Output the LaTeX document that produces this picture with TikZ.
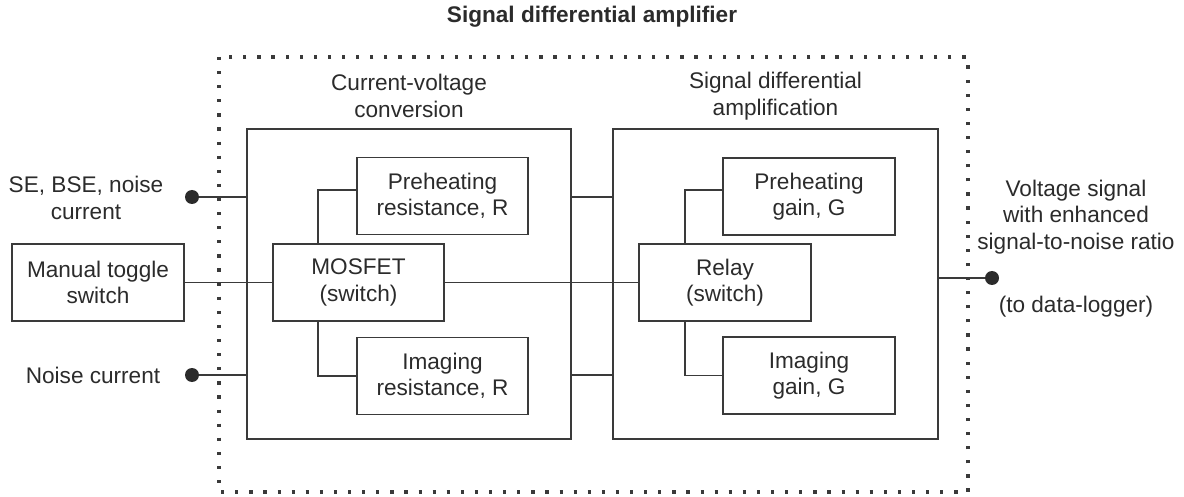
\documentclass[tikz,border=0pt]{standalone}
\usepackage{fontspec}
\setmainfont{Liberation Sans}
\usepackage{tikz}
\usetikzlibrary{positioning, calc}
\definecolor{linie}{HTML}{3A3A3A}
\definecolor{schrift}{HTML}{2B2B2B}

\begin{document}
\begin{tikzpicture}[
    x=1pt, y=-1pt,
    every node/.style={font=\fontsize{22.6}{26.5}\selectfont, text=schrift, align=center},
    box/.style={draw=linie, line width=1.5pt, inner sep=0pt},
    unit/.style={box, minimum width=171pt, minimum height=77pt},
    stage/.style={box, minimum width=324pt, minimum height=310pt},
    wire/.style={draw=linie, line width=1.4pt},
    terminal/.style={circle, fill=schrift, inner sep=0pt, minimum size=14pt},
  ]
  \useasboundingbox (0,0) rectangle (1184,497);

  % title and dotted frame
  \node[font=\fontsize{22.6}{26.5}\selectfont\bfseries] (title) at (592,17) {Signal differential amplifier};
  \draw[linie, line width=3.2pt, dash pattern=on 3.2pt off 10.9pt] (219,57) rectangle (968,492);

  % two stages
  \node[stage] (cv) at (409,284) {};
  \node[stage, minimum width=325pt] (sda) at (775.5,284) {};
  \node (cvTitle) at (409,96) {Current-voltage\\conversion};
  \node (sdaTitle) at (775.5,96) {Signal differential\\amplification};

  % current-voltage conversion
  \node[unit] (mosfet) at (358.5,282.5) {MOSFET\\(switch)};
  \node[unit] (preR) at (442.5,196) {Preheating\\resistance, R};
  \node[unit] (imgR) at (442.5,376) {Imaging\\resistance, R};

  % signal differential amplification
  \node[unit, minimum width=172pt] (relay) at (725,282.5) {Relay\\(switch)};
  \node[unit, minimum width=172pt] (preG) at (809,196.5) {Preheating\\gain, G};
  \node[unit, minimum width=172pt] (imgG) at (809,375.5) {Imaging\\gain, G};

  % inputs
  \node[unit, minimum width=172pt] (manual) at (98,282.5) {Manual toggle\\switch};
  \node[terminal] (seDot) at (192,197) {};
  \node[terminal] (noiseDot) at (192,375) {};
  \node (seText) at (86,198) {SE, BSE, noise\\current};
  \node (noiseText) at (93,375) {Noise current};

  % output
  \node[terminal] (outDot) at (992,278) {};
  \node (outText) at (1076,217) {Voltage signal\\with enhanced\\signal-to-noise ratio};
  \node (loggerText) at (1076,307) {(to data-logger)};

  \coordinate (upperBus) at (0,197);
  \coordinate (lowerBus) at (0,375);

  % wiring
  \draw[wire] (seDot) -- (seDot -| cv.west);
  \draw[wire] (noiseDot) -- (noiseDot -| cv.west);
  \draw[wire] (manual) -- (mosfet);
  \draw[wire] (mosfet) -- (relay);
  \draw[wire] (cv.east |- upperBus) -- (sda.west |- upperBus);
  \draw[wire] (cv.east |- lowerBus) -- (sda.west |- lowerBus);
  \draw[wire] ([xshift=-40.5pt]mosfet.north) |- ([yshift=6pt]preR.west);
  \draw[wire] ([xshift=-40.5pt]mosfet.south) |- (imgR.west);
  \draw[wire] ([xshift=-40pt]relay.north) |- ([yshift=6.5pt]preG.west);
  \draw[wire] ([xshift=-40pt]relay.south) |- (imgG.west);
  \draw[wire] ([yshift=6pt]sda.east) -- (outDot);
\end{tikzpicture}
\end{document}
